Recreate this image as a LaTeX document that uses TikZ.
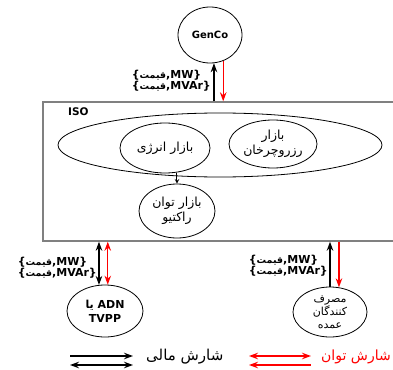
\documentclass[tikz,border=0pt]{standalone}
\usepackage{fontspec}
\setmainfont{DejaVu Sans}
\newfontfamily\fa[Script=Arabic]{DejaVu Sans}
\TeXXeTstate=1
\usetikzlibrary{shapes.geometric,arrows.meta}
\newcommand{\qm}{{\fa\fontsize{9.5}{9}\selectfont\beginR قیمت\endR}}

\begin{document}
\begin{tikzpicture}[x=1pt,y=-1pt,
  mkt/.style={draw,line width=0.8pt,ellipse,inner sep=0pt,align=center,font=\fa\fontsize{12.5}{15}\selectfont},
  flow/.style={line width=1.4pt,>={Stealth[length=9pt,width=6.5pt]}},
  lbl/.style={font=\bfseries\fontsize{11}{10}\selectfont,align=left,inner sep=0pt}]
  \clip (0,0) rectangle (393,369);

  \node[mkt,minimum width=64pt,minimum height=56pt,font=\bfseries\fontsize{10}{12}\selectfont] (genco) at (210,35) {GenCo};
  \node[draw=gray,line width=1.4pt,minimum width=360pt,minimum height=139pt,inner sep=0pt] (iso) at (223,171.5) {};
  \node[font=\bfseries\fontsize{10.5}{12}\selectfont,anchor=west,inner sep=0pt] (isotxt) at (68,112) {ISO};
  \node[mkt,minimum width=324pt,minimum height=64pt] (pool) at (220,145) {};
  \node[mkt,minimum width=90pt,minimum height=50pt] (energy) at (165,148) {\beginR بازار انرژی\endR};
  \node[mkt,minimum width=88pt,minimum height=48pt] (reserve) at (273,144) {\beginR بازار\endR\\\beginR رزروچرخان\endR};
  \node[mkt,minimum width=76pt,minimum height=54pt] (reactive) at (177,211) {\beginR بازار توان\endR\\\beginR راکتیو\endR};
  \node[mkt,minimum width=76pt,minimum height=52pt,font=\bfseries\fontsize{11}{14}\selectfont] (adn) at (105,311) {{\fa\beginR یا\endR} ADN\\TVPP};
  \node[mkt,minimum width=74pt,minimum height=50pt,font=\fa\fontsize{11}{13}\selectfont] (cons) at (330,312) {\beginR مصرف\endR\\\beginR کنندگان\endR\\\beginR عمده\endR};

  \draw[->,>=stealth,line width=1pt] (energy.-64) -- (energy.-64 |- reactive.north);

  \draw[flow,->] (genco.-82 |- iso.north) -- (genco.-82);
  \draw[flow,->,red] (genco.-63) -- (genco.-63 |- iso.north);
  \draw[flow,<->] (adn.103 |- iso.south) -- (adn.103);
  \draw[flow,<->,red] (adn.84 |- iso.south) -- (adn.84);
  \draw[flow,->] (cons.north) -- (cons.north |- iso.south);
  \draw[flow,->,red] (cons.70 |- iso.south) -- (cons.70);

  \foreach \n/\x/\y in {gen/211/81, adn/97/268, cons/328/266}
    \node[lbl,anchor=east] (p\n) at (\x,\y) {\{\qm,MW\}\\\{\qm,MVAr\}};

  \coordinate (f1) at (70,356);  \coordinate (f2) at (133,356);
  \coordinate (f3) at (70,365);  \coordinate (f4) at (133,365);
  \coordinate (r1) at (249,356); \coordinate (r2) at (311,356);
  \coordinate (r3) at (249,365); \coordinate (r4) at (311,365);
  \draw[flow,->] (f1) -- (f2);
  \draw[flow,<->] (f3) -- (f4);
  \draw[flow,<->,red] (r1) -- (r2);
  \draw[flow,<-,red] (r3) -- (r4);
  \node[font=\fa\fontsize{15}{16}\selectfont,anchor=west,inner sep=0pt] (fintxt) at (146,357) {\beginR شارش مالی\endR};
  \node[font=\fa\fontsize{14}{16}\selectfont,anchor=east,inner sep=0pt,text=red] (powtxt) at (391,357) {\beginR شارش توان\endR};
\end{tikzpicture}
\end{document}
